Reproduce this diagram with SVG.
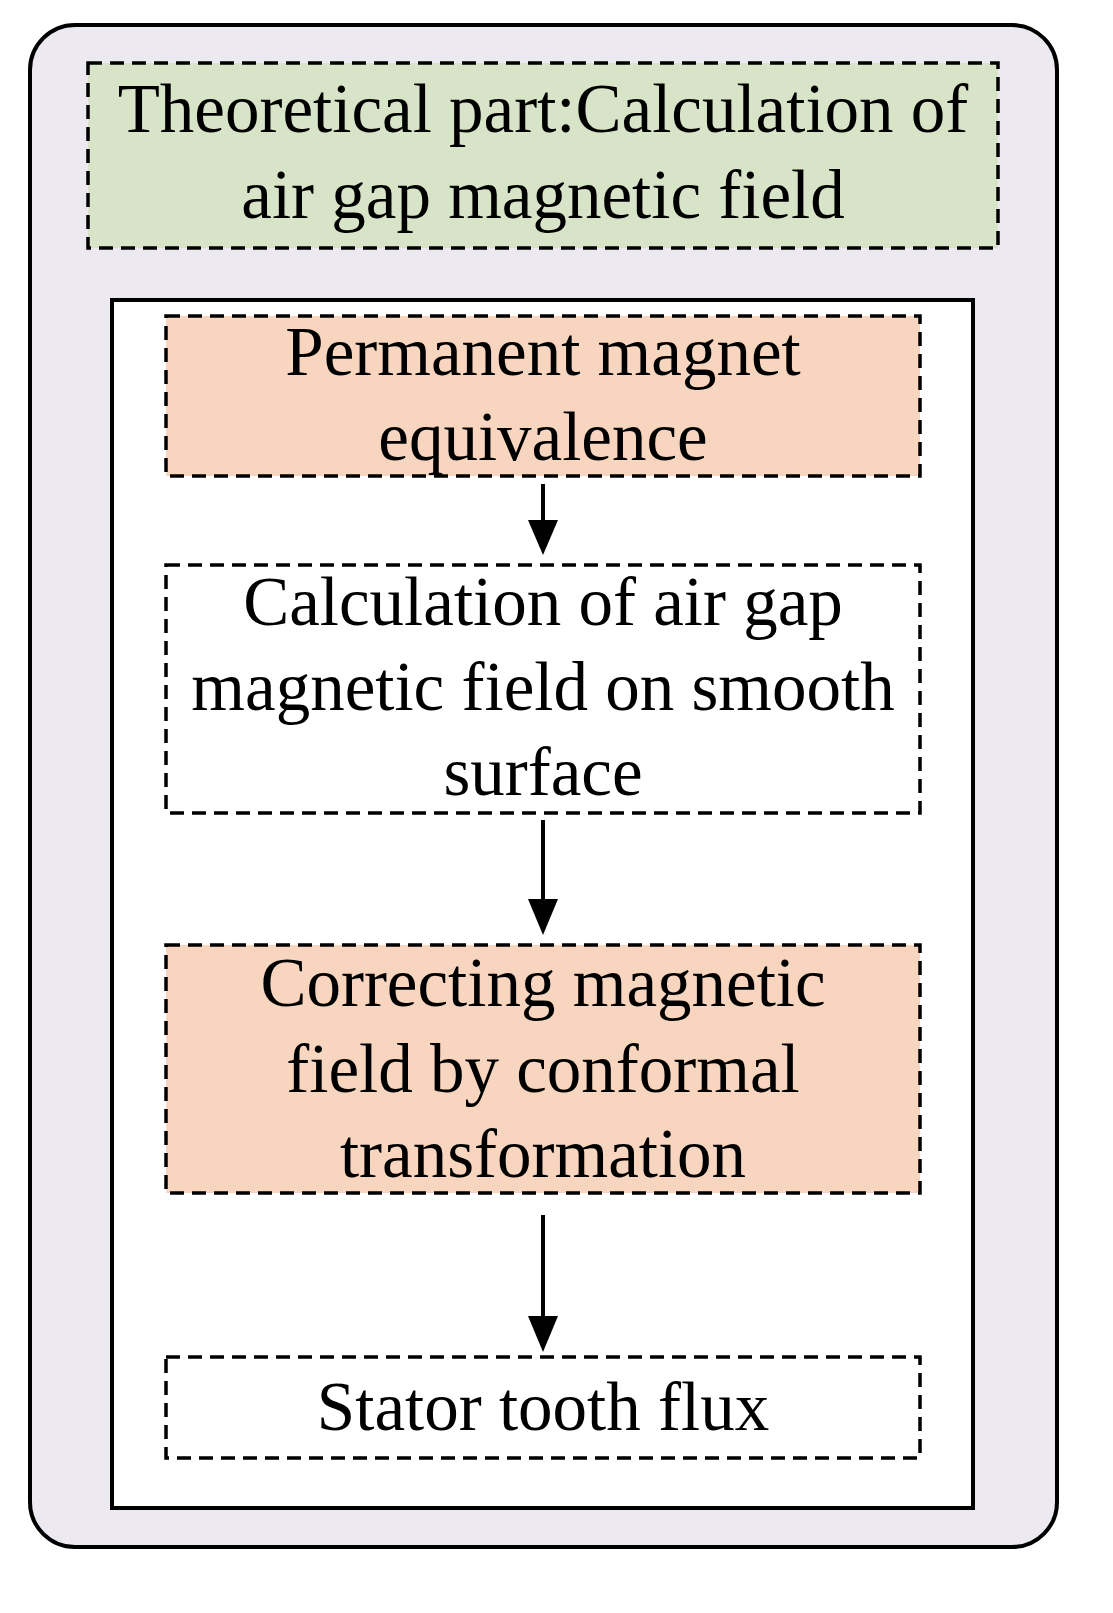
<svg xmlns="http://www.w3.org/2000/svg" width="1113" height="1613" viewBox="0 0 1113 1613">
<style>
text{font-family:"Liberation Serif","Times New Roman",serif;font-size:69px;text-anchor:middle;fill:#000}
.d{stroke:#000;stroke-width:3.5;stroke-dasharray:14,8}
.a{stroke:#000;stroke-width:4;fill:none}
</style>
<g id="outer"><rect x="30" y="25" width="1027" height="1522" rx="45" fill="#ECE9F1" stroke="#000" stroke-width="4"/></g>
<g id="title"><rect x="88" y="63" width="910" height="185" fill="#D8E4C8" class="d"/>
<text x="543" y="132">Theoretical part:Calculation of</text><text x="543" y="218">air gap magnetic field</text></g>
<g id="inner"><rect x="112" y="300" width="861" height="1208" fill="#fff" stroke="#000" stroke-width="4"/></g>
<g id="n1"><rect x="166" y="316" width="754" height="160" fill="#F8D5BF" class="d"/>
<text x="543" y="375">Permanent magnet</text><text x="543" y="460">equivalence</text></g>
<g id="n2"><rect x="166" y="565" width="754" height="248" fill="#fff" class="d"/>
<text x="543" y="625">Calculation of air gap</text><text x="543" y="710">magnetic field on smooth</text><text x="543" y="795">surface</text></g>
<g id="n3"><rect x="166" y="945" width="754" height="248" fill="#F8D5BF" class="d"/>
<text x="543" y="1006">Correcting magnetic</text><text x="543" y="1092">field by conformal</text><text x="543" y="1177">transformation</text></g>
<g id="n4"><rect x="166" y="1357" width="754" height="101" fill="#fff" class="d"/>
<text x="543" y="1430">Stator tooth flux</text></g>
<g id="connectors">
<line class="a" x1="543" y1="484" x2="543" y2="521"/><path d="M528,520L558,520L543,555Z"/>
<line class="a" x1="543" y1="820" x2="543" y2="900"/><path d="M528,899L558,899L543,935Z"/>
<line class="a" x1="543" y1="1215" x2="543" y2="1317"/><path d="M528,1316L558,1316L543,1352Z"/>
</g>
</svg>
